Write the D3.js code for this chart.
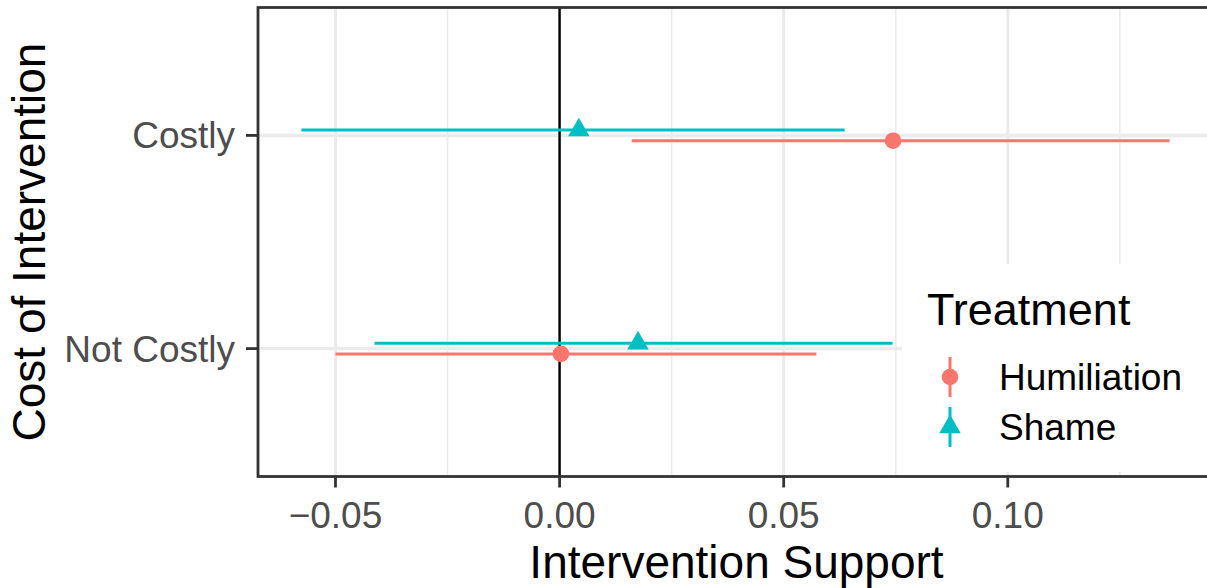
<!DOCTYPE html>
<html>
<head>
<meta charset="utf-8">
<script src="https://cdn.jsdelivr.net/npm/d3@7"></script>
<style>
  body { margin: 0; background: #fff; }
  text { font-family: "Liberation Sans", Arial, Helvetica, sans-serif; }
</style>
</head>
<body>
<svg id="chart" width="1207" height="588"></svg>
<script>
// Estimates with confidence intervals, one row per cost level × treatment
const costLevels = ["Costly", "Not Costly"];
const treatments = ["Humiliation", "Shame"];
const rowCost = ["Costly", "Costly", "Not Costly", "Not Costly"];
const rowTreatment = ["Humiliation", "Shame", "Humiliation", "Shame"];
const estimate = [0.0744, 0.0043, 0.0003, 0.0175];
const lower = [0.0161, -0.0576, -0.0500, -0.0413];
const upper = [0.1361, 0.0636, 0.0573, 0.0743];
const xTicks = [-0.05, 0.00, 0.05, 0.10];
const xMinorTicks = [-0.075, -0.025, 0.025, 0.075, 0.125];
const treatmentColors = ["#F8766D", "#00BFC4"];

const rows = estimate.map((e, i) => ({
  cost: rowCost[i], treatment: rowTreatment[i], est: e, lo: lower[i], hi: upper[i]
}));

const svg = d3.select("#chart");
const panel = { left: 258, right: 1213, top: 7.5, bottom: 476.5 };

// Continuous scale with 5% expansion on each side
const lo = d3.min(lower), hi = d3.max(upper);
const pad = (hi - lo) * 0.05;
const x = d3.scaleLinear().domain([lo - pad, hi + pad]).range([panel.left, panel.right]);
const y = d3.scalePoint().domain(costLevels).range([panel.top, panel.bottom]).padding(0.6);
const color = d3.scaleOrdinal().domain(treatments).range(treatmentColors);
const dodge = d3.scaleOrdinal().domain(treatments).range([1, -1]).unknown(0);
const dodgeStep = y.step() * 0.025;

const clip = svg.append("defs").append("clipPath").attr("id", "panel-clip")
  .append("rect").attr("x", panel.left).attr("y", panel.top)
  .attr("width", panel.right - panel.left).attr("height", panel.bottom - panel.top);

const g = svg.append("g").attr("clip-path", "url(#panel-clip)");

// Grid
g.selectAll(".minor-x").data(xMinorTicks.filter(v => x(v) > panel.left)).join("line")
  .attr("x1", d => x(d)).attr("x2", d => x(d))
  .attr("y1", panel.top).attr("y2", panel.bottom)
  .attr("stroke", "#EBEBEB").attr("stroke-width", 1.6);
g.selectAll(".major-x").data(xTicks).join("line")
  .attr("x1", d => x(d)).attr("x2", d => x(d))
  .attr("y1", panel.top).attr("y2", panel.bottom)
  .attr("stroke", "#EBEBEB").attr("stroke-width", 3);
g.selectAll(".major-y").data(costLevels).join("line")
  .attr("x1", panel.left).attr("x2", panel.right)
  .attr("y1", d => y(d)).attr("y2", d => y(d))
  .attr("stroke", "#EBEBEB").attr("stroke-width", 3.5);

// Zero reference line
g.append("line")
  .attr("x1", x(0)).attr("x2", x(0))
  .attr("y1", panel.top).attr("y2", panel.bottom)
  .attr("stroke", "#000").attr("stroke-width", 2.4);

const rowY = d => y(d.cost) + dodge(d.treatment) * dodgeStep;

// Intervals
g.selectAll(".interval").data(rows).join("line")
  .attr("x1", d => x(d.lo)).attr("x2", d => x(d.hi))
  .attr("y1", rowY).attr("y2", rowY)
  .attr("stroke", d => color(d.treatment)).attr("stroke-width", 3);

// Point estimates
const circleSym = d3.symbol().type(d3.symbolCircle).size(Math.PI * 8.3 * 8.3);
const triSym = d3.symbol().type(d3.symbolTriangle).size(200);
const shapeFor = t => t === "Humiliation" ? circleSym() : triSym();
g.selectAll(".point").data(rows).join("path")
  .attr("transform", d => `translate(${x(d.est)},${rowY(d)})`)
  .attr("d", d => shapeFor(d.treatment))
  .attr("fill", d => color(d.treatment));

// Legend (drawn inside the panel on a white box)
const legend = svg.append("g");
legend.append("rect").attr("x", 902).attr("y", 264).attr("width", 320).attr("height", 208).attr("fill", "#fff");
legend.append("text").attr("x", 927).attr("y", 325)
  .attr("font-size", 45).attr("fill", "#000").text("Treatment");
const keyY = [377, 427];
const keys = legend.selectAll(".key").data(treatments).join("g")
  .attr("transform", (d, i) => `translate(950,${keyY[i]})`);
keys.append("line").attr("x1", 0).attr("x2", 0).attr("y1", -20).attr("y2", 20)
  .attr("stroke", d => color(d)).attr("stroke-width", 3);
keys.append("path").attr("d", d => shapeFor(d)).attr("fill", d => color(d));
keys.append("text").attr("x", 49).attr("y", 13)
  .attr("font-size", 37).attr("fill", "#000").text(d => d);

// Panel border
svg.append("rect")
  .attr("x", panel.left).attr("y", panel.top)
  .attr("width", panel.right - panel.left).attr("height", panel.bottom - panel.top)
  .attr("fill", "none").attr("stroke", "#333333").attr("stroke-width", 2.8);

// X axis
const xAxis = svg.append("g");
xAxis.selectAll("line").data(xTicks).join("line")
  .attr("x1", d => x(d)).attr("x2", d => x(d))
  .attr("y1", panel.bottom).attr("y2", panel.bottom + 11)
  .attr("stroke", "#333333").attr("stroke-width", 2.8);
xAxis.selectAll("text").data(xTicks).join("text")
  .attr("x", d => x(d)).attr("y", 528)
  .attr("text-anchor", "middle").attr("font-size", 37).attr("fill", "#4D4D4D")
  .text(d => d3.format(".2f")(d).replace("-", "\u2212"));
svg.append("text").attr("x", (panel.left + Math.min(panel.right, 1207)) / 2 + 4).attr("y", 578)
  .attr("text-anchor", "middle").attr("font-size", 46).attr("fill", "#000")
  .text("Intervention Support");

// Y axis
const yAxis = svg.append("g");
yAxis.selectAll("line").data(costLevels).join("line")
  .attr("x1", panel.left - 12).attr("x2", panel.left)
  .attr("y1", d => y(d)).attr("y2", d => y(d))
  .attr("stroke", "#333333").attr("stroke-width", 2.8);
yAxis.selectAll("text").data(costLevels).join("text")
  .attr("x", 235).attr("y", d => y(d) + 13)
  .attr("text-anchor", "end").attr("font-size", 37).attr("fill", "#4D4D4D")
  .text(d => d);
svg.append("text")
  .attr("transform", `translate(45,${(panel.top + panel.bottom) / 2}) rotate(-90)`)
  .attr("text-anchor", "middle").attr("font-size", 46).attr("fill", "#000")
  .text("Cost of Intervention");
</script>
</body>
</html>
